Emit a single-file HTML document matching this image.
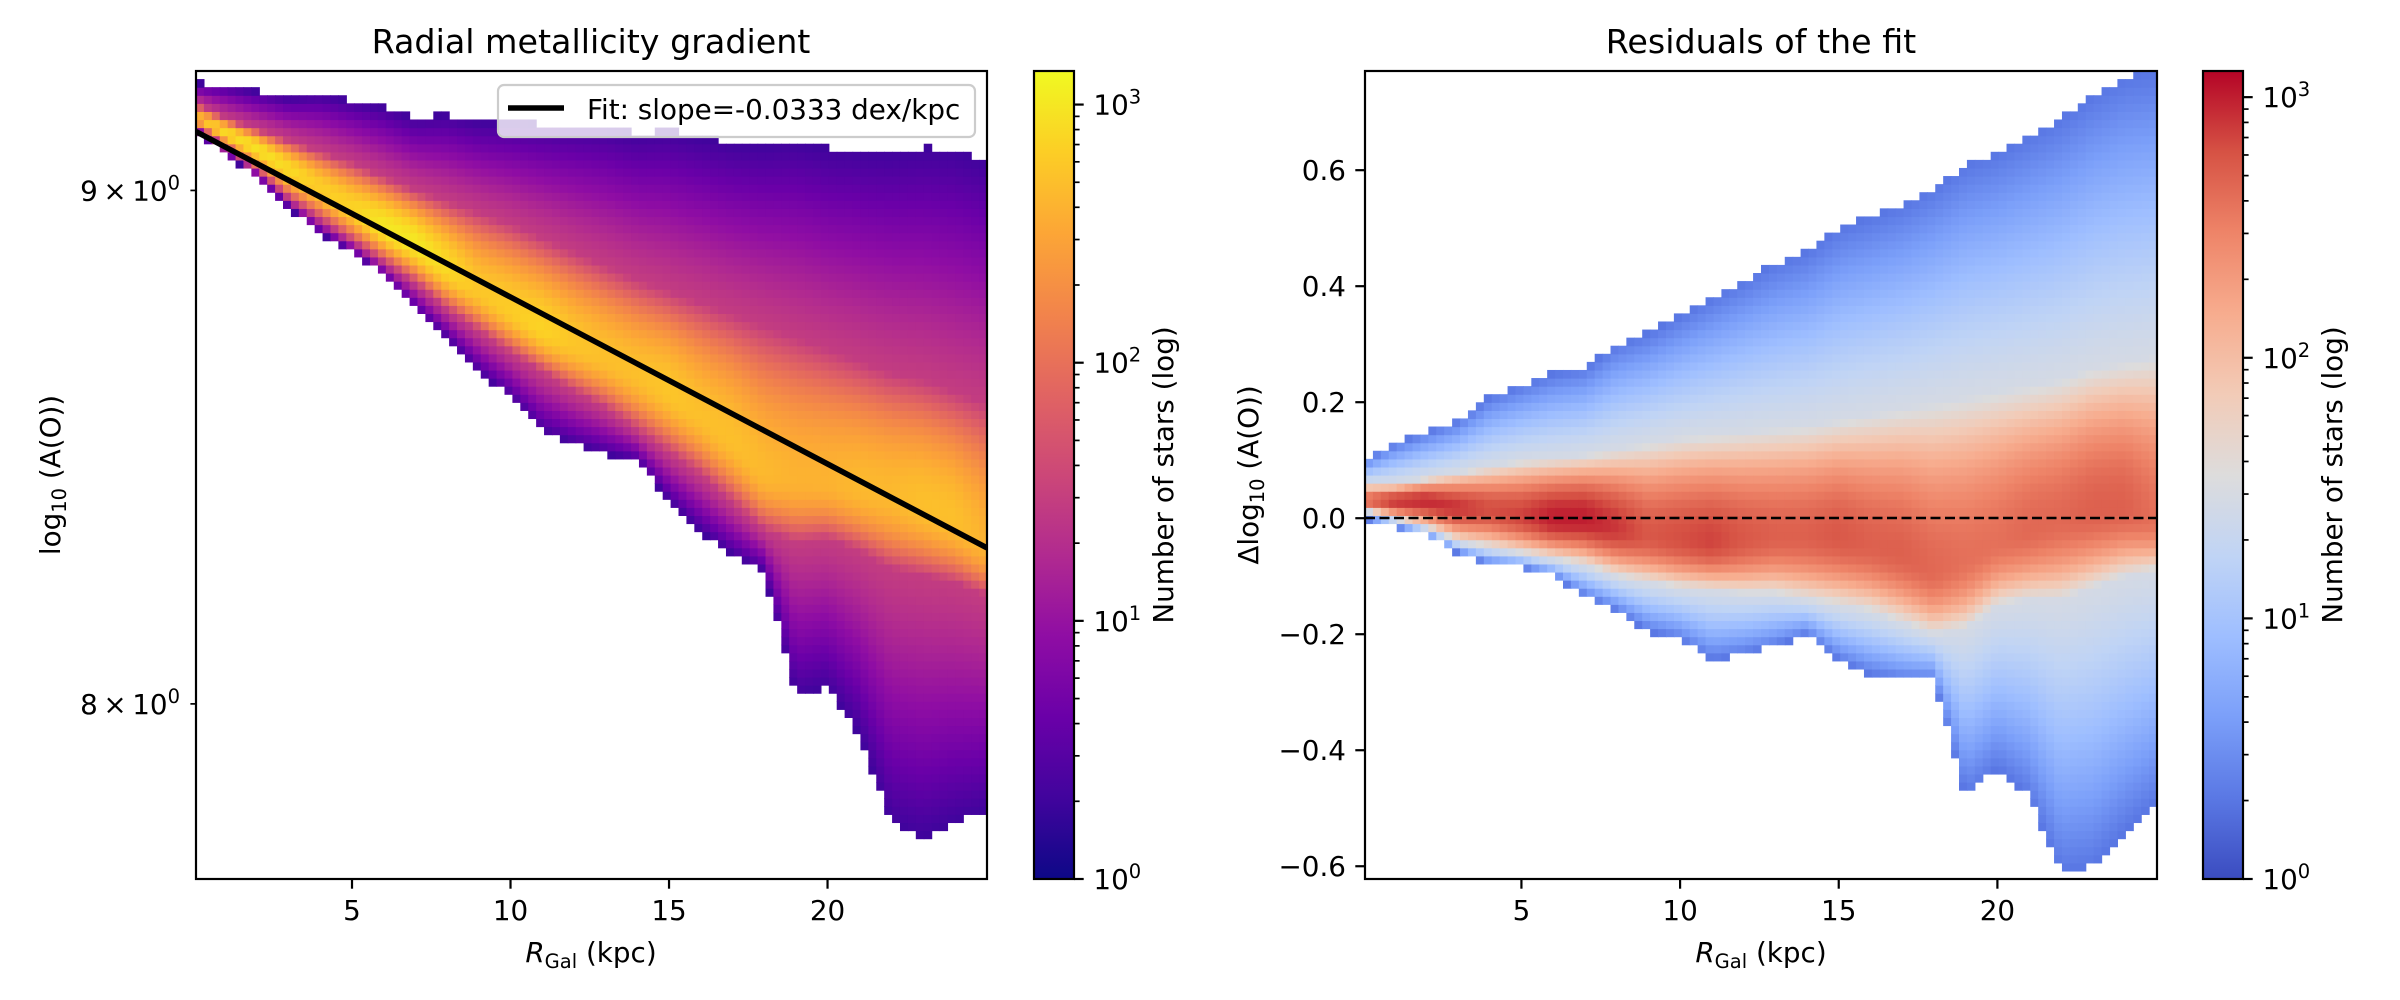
<!DOCTYPE html>
<html><head><meta charset="utf-8"><title>Radial metallicity gradient</title>
<style>
html,body{margin:0;padding:0;background:#fff;}
svg{display:block;font-family:"DejaVu Sans","Liberation Sans",sans-serif;}
text{fill:#000;}
</style></head>
<body>
<svg id="fig" xmlns="http://www.w3.org/2000/svg" width="2400" height="1000" viewBox="0 0 2400 1000">
<defs>
  <linearGradient id="gradPlasma" x1="0" y1="1" x2="0" y2="0"></linearGradient>
  <linearGradient id="gradCool" x1="0" y1="1" x2="0" y2="0"></linearGradient>
  <clipPath id="clipL"><rect x="196" y="71" width="791" height="808"/></clipPath>
  <clipPath id="clipR"><rect x="1365" y="71" width="792" height="808"/></clipPath>
</defs>

<g>
  <text x="591" y="53" font-size="33.3" text-anchor="middle">Radial metallicity gradient</text>
  <g id="cellsL" clip-path="url(#clipL)"></g>
  <g id="fitLine" clip-path="url(#clipL)"></g>
  <g id="axesL"></g>
  <rect x="196" y="71" width="791" height="808" fill="none" stroke="#000" stroke-width="2.2"/>
  <g>
    <rect x="498" y="85" width="477" height="52" rx="6" fill="#fff" fill-opacity="0.8" stroke="#cccccc" stroke-width="2.2"/>
    <line x1="508" y1="108" x2="564" y2="108" stroke="#000" stroke-width="5.6"/>
    <text x="587" y="119" font-size="27.8">Fit: slope=-0.0333 dex/kpc</text>
  </g>
  <text x="591" y="962" font-size="27.8" text-anchor="middle"><tspan font-style="italic">R</tspan><tspan font-size="19.5" dy="6">Gal</tspan><tspan dy="-6"> (kpc)</tspan></text>
  <text transform="translate(60,475) rotate(-90)" font-size="27.8" text-anchor="middle">log<tspan font-size="19.5" dy="6">10</tspan><tspan dy="-6"> (A(O))</tspan></text>
  <rect x="1034" y="71" width="40" height="808" fill="url(#gradPlasma)" stroke="#000" stroke-width="2.2"/>
  <g id="cbL"></g>
  <text transform="translate(1173,475) rotate(-90)" font-size="27.8" text-anchor="middle">Number of stars (log)</text>
</g>

<g>
  <text x="1761" y="53" font-size="33.3" text-anchor="middle">Residuals of the fit</text>
  <g id="cellsR" clip-path="url(#clipR)"></g>
  <line x1="1365" y1="518" x2="2157" y2="518" stroke="#000" stroke-width="2.6" stroke-dasharray="10,4.5"/>
  <g id="axesR"></g>
  <rect x="1365" y="71" width="792" height="808" fill="none" stroke="#000" stroke-width="2.2"/>
  <text x="1761" y="962" font-size="27.8" text-anchor="middle"><tspan font-style="italic">R</tspan><tspan font-size="19.5" dy="6">Gal</tspan><tspan dy="-6"> (kpc)</tspan></text>
  <text transform="translate(1258,475) rotate(-90)" font-size="27.8" text-anchor="middle">Δlog<tspan font-size="19.5" dy="6">10</tspan><tspan dy="-6"> (A(O))</tspan></text>
  <rect x="2203" y="71" width="40" height="808" fill="url(#gradCool)" stroke="#000" stroke-width="2.2"/>
  <g id="cbR"></g>
  <text transform="translate(2342,475) rotate(-90)" font-size="27.8" text-anchor="middle">Number of stars (log)</text>
</g>
</svg>

<script>
const X_KPC = [0,1,2,3,4,5,6,7,8,9,10,11,12,13,14,15,16,17,18,19,20,21,22,23,24,25];
const RES_CENTER = [0.03,0.03,0.03,0.02,0.015,0.005,0.0,0.0,-0.015,-0.03,-0.035,-0.04,-0.035,-0.03,-0.03,-0.03,-0.045,-0.06,-0.09,-0.07,-0.04,-0.02,0.0,0.015,0.02,0.0];
const RES_PEAK_LOG = [2.6,2.9,2.95,2.9,2.8,2.85,3.0,3.0,2.9,2.75,2.8,2.85,2.75,2.7,2.7,2.75,2.7,2.7,2.65,2.6,2.6,2.65,2.65,2.7,2.7,2.6];
const RES_GREY_UP = [0.06,0.06,0.07,0.08,0.09,0.10,0.105,0.11,0.12,0.13,0.14,0.145,0.15,0.155,0.16,0.17,0.18,0.19,0.2,0.21,0.22,0.23,0.24,0.26,0.27,0.28];
const RES_GREY_LO = [0.015,0.0,-0.015,-0.04,-0.05,-0.06,-0.07,-0.08,-0.10,-0.11,-0.12,-0.125,-0.13,-0.13,-0.14,-0.15,-0.16,-0.18,-0.2,-0.19,-0.15,-0.14,-0.14,-0.12,-0.1,-0.09];
const RES_EDGE_UP = [0.10,0.13,0.15,0.17,0.21,0.23,0.25,0.26,0.30,0.32,0.35,0.38,0.41,0.44,0.46,0.50,0.52,0.54,0.57,0.61,0.63,0.66,0.69,0.73,0.76,0.77];
const RES_EDGE_LO = [0.0,-0.015,-0.03,-0.06,-0.08,-0.085,-0.10,-0.135,-0.16,-0.195,-0.21,-0.245,-0.235,-0.22,-0.20,-0.245,-0.27,-0.28,-0.28,-0.48,-0.43,-0.48,-0.61,-0.60,-0.54,-0.49];
const FIT_INTERCEPT = 9.125;
const FIT_SLOPE = -0.0333;
const X_TICKS = [5,10,15,20];
const LEFT_Y_TICKS = [8,9];
const RIGHT_Y_TICKS = [-0.6,-0.4,-0.2,0.0,0.2,0.4,0.6];
const RIGHT_Y_TICK_LABELS = ["\u22120.6","\u22120.4","\u22120.2","0.0","0.2","0.4","0.6"];
const CB_DECADES = [0,1,2,3];
const N_BINS = 100;
const LEFT_VMAX = 1349;
const RIGHT_VMAX = 1260;

const PLASMA = ["#0d0887","#41049d","#6a00a8","#8f0da4","#b12a90","#cc4778","#e16462","#f2844b","#fca636","#fcce25","#f0f921"];
const COOLWARM = ["#3b4cc0","#5a78e4","#7b9ff9","#9ebeff","#c0d4f5","#dddcdc","#f2cbb7","#f7ac8e","#ee8468","#d65244","#b40426"];
function hex2rgb(h){return [parseInt(h.substr(1,2),16),parseInt(h.substr(3,2),16),parseInt(h.substr(5,2),16)];}
function cmap(stops,t){
  t=Math.max(0,Math.min(1,t));
  const f=t*(stops.length-1),i=Math.min(stops.length-2,Math.floor(f)),u=f-i;
  const a=hex2rgb(stops[i]),b=hex2rgb(stops[i+1]);
  return "rgb("+a.map((v,k)=>Math.round(v+(b[k]-v)*u)).join(",")+")";
}
const NS="http://www.w3.org/2000/svg";
function el(tag,attrs,parent){const e=document.createElementNS(NS,tag);for(const k in attrs)e.setAttribute(k,attrs[k]);parent.appendChild(e);return e;}

[["gradPlasma",PLASMA],["gradCool",COOLWARM]].forEach(([id,st])=>{
  const g=document.getElementById(id);
  st.forEach((c,i)=>el("stop",{offset:(i/(st.length-1)),"stop-color":c},g));
});

const LX0=0.079, LX1=25.03, LPX0=196, LPX1=987;
const RX0=0.07, RX1=25.03, RPX0=1365, RPX1=2157;
const PY0=879, PY1=71;
const LA0=7.685, LA1=9.25;
const RD0=-0.622, RD1=0.771;
function xL(k){return LPX0+(k-LX0)/(LX1-LX0)*(LPX1-LPX0);}
function xR(k){return RPX0+(k-RX0)/(RX1-RX0)*(RPX1-RPX0);}
function yL(a){return PY0-(Math.log10(a)-Math.log10(LA0))/(Math.log10(LA1)-Math.log10(LA0))*(PY0-PY1);}
function yR(d){return PY0-(d-RD0)/(RD1-RD0)*(PY0-PY1);}
function cbY(n,vmax){return PY0-Math.log10(n)/Math.log10(vmax)*(PY0-PY1);}

function interp(arr,k){
  k=Math.max(X_KPC[0],Math.min(X_KPC[X_KPC.length-1],k));
  let i=Math.min(X_KPC.length-2,Math.floor(k-X_KPC[0]));
  const u=(k-X_KPC[i])/(X_KPC[i+1]-X_KPC[i]);
  return arr[i]+(arr[i+1]-arr[i])*u;
}
const WING_START=1.45;
function wing(u){return WING_START-1.15*Math.pow(u,1.2);}
function logCount(k,d){
  const c=interp(RES_CENTER,k),P=interp(RES_PEAK_LOG,k);
  const gu=interp(RES_GREY_UP,k),gl=interp(RES_GREY_LO,k);
  const eu=interp(RES_EDGE_UP,k),elo=interp(RES_EDGE_LO,k);
  if(d>=c){
    if(d>eu) return -1;
    if(d<=gu){const t=(d-c)/(gu-c);return P-(P-WING_START)*t*t;}
    return wing((d-gu)/(eu-gu));
  } else {
    if(d<elo) return -1;
    if(d>=gl){const t=(c-d)/(c-gl);return P-(P-WING_START)*t*t;}
    return wing((gl-d)/(gl-elo));
  }
}

const gL=document.getElementById("cellsL");
const lA0=Math.log10(LA0), lA1=Math.log10(LA1);
for(let i=0;i<N_BINS;i++){
  const k0=LX0+(LX1-LX0)*i/N_BINS, k1=LX0+(LX1-LX0)*(i+1)/N_BINS, kc=(k0+k1)/2;
  for(let j=0;j<N_BINS;j++){
    const a0=Math.pow(10,lA0+(lA1-lA0)*j/N_BINS), a1=Math.pow(10,lA0+(lA1-lA0)*(j+1)/N_BINS);
    const ac=(a0+a1)/2;
    const d=ac-(FIT_INTERCEPT+FIT_SLOPE*kc);
    const L=logCount(kc,d);
    if(L<0) continue;
    const r=el("rect",{x:xL(k0).toFixed(2),y:yL(a1).toFixed(2),width:(xL(k1)-xL(k0)+0.6).toFixed(2),height:(yL(a0)-yL(a1)+0.6).toFixed(2),fill:cmap(PLASMA,L/Math.log10(LEFT_VMAX))},gL);
    
    
  }
}
const gR=document.getElementById("cellsR");
for(let i=0;i<N_BINS;i++){
  const k0=RX0+(RX1-RX0)*i/N_BINS, k1=RX0+(RX1-RX0)*(i+1)/N_BINS, kc=(k0+k1)/2;
  for(let j=0;j<N_BINS;j++){
    const d0=RD0+(RD1-RD0)*j/N_BINS, d1=RD0+(RD1-RD0)*(j+1)/N_BINS;
    const L=logCount(kc,(d0+d1)/2);
    if(L<0) continue;
    const r=el("rect",{x:xR(k0).toFixed(2),y:yR(d1).toFixed(2),width:(xR(k1)-xR(k0)+0.6).toFixed(2),height:(yR(d0)-yR(d1)+0.6).toFixed(2),fill:cmap(COOLWARM,L/Math.log10(RIGHT_VMAX))},gR);
    
    
  }
}

const fl=el("line",{x1:xL(LX0),y1:yL(FIT_INTERCEPT+FIT_SLOPE*LX0),x2:xL(LX1),y2:yL(FIT_INTERCEPT+FIT_SLOPE*LX1),stroke:"#000","stroke-width":5.6},document.getElementById("fitLine"));



function xTicks(group,scale){
  X_TICKS.forEach(v=>{
    const x=scale(v);
    const t=el("line",{x1:x,y1:879,x2:x,y2:888.7,stroke:"#000","stroke-width":2.2},group);
    
    
    const l=el("text",{x:x,y:920,"font-size":27.8,"text-anchor":"middle"},group);
    l.textContent=String(v);
    
    
  });
}
const axL=document.getElementById("axesL"), axR=document.getElementById("axesR");
xTicks(axL,xL); xTicks(axR,xR);
LEFT_Y_TICKS.forEach(v=>{
  const y=yL(v);
  const t=el("line",{x1:196,y1:y,x2:190.4,y2:y,stroke:"#000","stroke-width":1.7},axL);
  
  
  const l=el("text",{x:180,y:y+10,"font-size":27.8,"text-anchor":"end"},axL);
  l.innerHTML=v+"\u2009\u00d7\u200910<tspan font-size=\"19.5\" dy=\"-11\">0</tspan>";
  
  
});
RIGHT_Y_TICKS.forEach((v,i)=>{
  const y=yR(v);
  const t=el("line",{x1:1365,y1:y,x2:1355.3,y2:y,stroke:"#000","stroke-width":2.2},axR);
  
  
  const l=el("text",{x:1346,y:y+10,"font-size":27.8,"text-anchor":"end"},axR);
  l.textContent=RIGHT_Y_TICK_LABELS[i];
  
  
});

function cbTicks(group,x0,vmax){
  const xr=x0+40;
  CB_DECADES.forEach(p=>{
    const y=cbY(Math.pow(10,p),vmax);
    const t=el("line",{x1:xr,y1:y,x2:xr+9.7,y2:y,stroke:"#000","stroke-width":2.2},group);
    
    
    const l=el("text",{x:xr+19.4,y:y+10,"font-size":27.8},group);
    l.innerHTML="10<tspan font-size=\"19.5\" dy=\"-11\">"+p+"</tspan>";
    
    
    for(let m=2;m<=9;m++){
      const n=m*Math.pow(10,p);
      if(n>vmax) break;
      const ym=cbY(n,vmax);
      const mt=el("line",{x1:xr,y1:ym,x2:xr+5.6,y2:ym,stroke:"#000","stroke-width":1.7},group);
      
      
    }
  });
}
cbTicks(document.getElementById("cbL"),1034,LEFT_VMAX);
cbTicks(document.getElementById("cbR"),2203,RIGHT_VMAX);
</script>
</body></html>
